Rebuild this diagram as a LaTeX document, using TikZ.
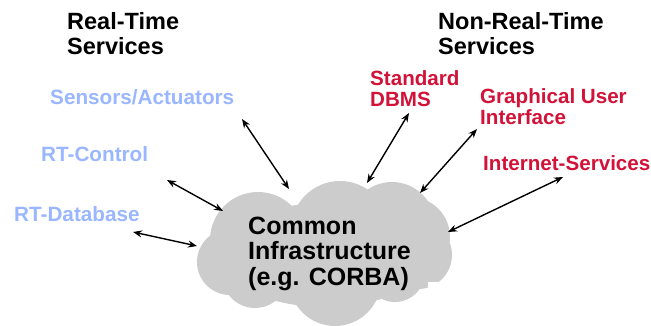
\documentclass[tikz,border=0pt]{standalone}
\usepackage{fontspec}
\setmainfont{Liberation Sans}
\usetikzlibrary{arrows.meta}
\definecolor{rtblue}{RGB}{153,182,255}
\definecolor{nrtred}{RGB}{210,18,56}
\definecolor{cloudgrey}{RGB}{204,204,204}
\tikzset{
  head/.style={anchor=base west,align=left,font=\fontsize{23.5}{25}\selectfont\bfseries,inner sep=0pt},
  rtlabel/.style={anchor=base west,font=\fontsize{20.7}{22}\selectfont\bfseries,text=rtblue,inner sep=0pt},
  nrtlabel/.style={anchor=base west,align=left,font=\fontsize{20.6}{21.5}\selectfont\bfseries,text=nrtred,inner sep=0pt},
  link/.style={{Stealth[length=9pt,width=7pt]}-{Stealth[length=9pt,width=7pt]},line width=1.4pt},
  puff/.style={fill=cloudgrey}
}
\begin{document}
\begin{tikzpicture}[x=1pt,y=-1pt]
\useasboundingbox (0,0) rectangle (651,326);
% shared infrastructure cloud, built from overlapping puffs
\fill[puff] (325,255) ellipse[x radius=105,y radius=52];
\fill[puff] (258,240) circle[radius=48];
\fill[puff] (340,230) circle[radius=49];
\fill[puff] (392,225) circle[radius=43];
\fill[puff] (410,237) circle[radius=40];
\fill[puff] (418,255) circle[radius=34];
\fill[puff] (230,262) circle[radius=33];
\fill[puff] (255,275) circle[radius=33];
\fill[puff] (335,280) circle[radius=46];
\fill[puff] (395,272) circle[radius=30];
\coordinate (cloud) at (325,255);
\fill[white] (428,282) rectangle (460,310);
\node[anchor=base west,align=left,inner sep=0pt,
      font=\fontsize{25}{25.5}\selectfont\bfseries] (infra) at (248,285)
  {Common\\Infrastructure\\(e.g. CORBA)};
% column headings
\node[head] (rth) at (67,55) {Real-Time\\Services};
\node[head] (nrth) at (438,55) {Non-Real-Time\\Services};
% real-time services
\node[rtlabel] (sens) at (50,105) {Sensors/Actuators};
\node[rtlabel] (ctrl) at (41,162) {RT-Control};
\node[rtlabel] (rtdb) at (14,222) {RT-Database};
% non-real-time services
\node[nrtlabel] (dbms) at (370,107) {Standard\\DBMS};
\node[nrtlabel] (gui) at (480,125) {Graphical User\\Interface};
\node[nrtlabel] (inet) at (483,171) {Internet-Services};
% arrow end points
\coordinate (a1) at (242,119); \coordinate (b1) at (289,189);
\coordinate (a2) at (167,180); \coordinate (b2) at (223,211);
\coordinate (a3) at (133,232); \coordinate (b3) at (197,246);
\coordinate (a4) at (409,113); \coordinate (b4) at (367,183);
\coordinate (a5) at (477,129); \coordinate (b5) at (420,193);
\coordinate (a6) at (563,177); \coordinate (b6) at (448,232);
\draw[link] (a1) -- (b1);
\draw[link] (a2) -- (b2);
\draw[link] (a3) -- (b3);
\draw[link] (a4) -- (b4);
\draw[link] (a5) -- (b5);
\draw[link] (a6) -- (b6);
\end{tikzpicture}
\end{document}
